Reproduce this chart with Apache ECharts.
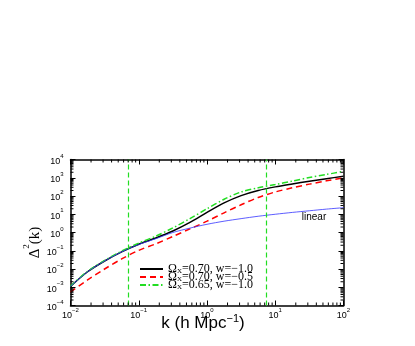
<!DOCTYPE html>
<html>
<head>
<meta charset="utf-8">
<script src="https://cdn.jsdelivr.net/npm/echarts@6/dist/echarts.min.js"></script>
<style>
  html, body { margin: 0; padding: 0; background: #fff; }
  #main { width: 415px; height: 346px; }
</style>
</head>
<body>
<div id="main"></div>
<script>
// wavenumber k in h/Mpc
var kValues = [0.01, 0.0178, 0.0316, 0.0562, 0.1, 0.178, 0.316, 0.562, 1, 1.78, 3.16, 5.62, 10, 17.8, 31.6, 56.2, 100];
// Delta^2(k) for each model
var omega070w10 = [0.00112, 0.00708, 0.0275, 0.0871, 0.229, 0.501, 1.20, 3.55, 12.6, 41.7, 105, 200, 316, 457, 646, 891, 1202];
var omega070w05 = [0.000562, 0.00251, 0.0100, 0.0355, 0.105, 0.240, 0.603, 1.58, 4.17, 12.0, 33.1, 83.2, 166, 282, 447, 676, 1000];
var omega065w10 = [0.00117, 0.00741, 0.0295, 0.0955, 0.263, 0.631, 1.78, 5.75, 20.0, 66.1, 166, 282, 427, 661, 1023, 1514, 2239];
var linearSpec = [0.00112, 0.00708, 0.0275, 0.0871, 0.219, 0.457, 1.00, 1.74, 2.82, 4.17, 5.75, 7.76, 10.0, 12.6, 15.5, 19.1, 22.9];
var legendLabels = ['Ω{sub|X}=0.70, w=−1.0', 'Ω{sub|X}=0.70, w=−0.5', 'Ω{sub|X}=0.65, w=−1.0'];
var scaleLines = [0.072, 7.4];
var linearNote = [37, 7.2];

function pairs(ys) {
    return kValues.map(function (k, i) { return [k, ys[i]]; });
}

function powerLabel(v) {
    var e = Math.round(Math.log10(v));
    return '{b|10}{s|' + (e < 0 ? '−' + (-e) : e) + '}';
}

// minor ticks at 2..9 x 10^n
function minorTicks(lo, hi) {
    var t = [];
    for (var e = lo; e < hi; e++) {
        for (var m = 2; m <= 9; m++) t.push(m * Math.pow(10, e));
    }
    return t;
}

var supRich = {
    b: {fontSize: 9, fontFamily: 'Liberation Sans', color: '#000', verticalAlign: 'bottom', lineHeight: 13},
    s: {fontSize: 6, fontFamily: 'Liberation Sans', color: '#000', verticalAlign: 'top', lineHeight: 6}
};

var tickStyle = {show: true, inside: true, length: 5, lineStyle: {color: '#000', width: 1}};
var lineAxis = {lineStyle: {color: '#000', width: 1.5}};

var myChart = echarts.init(document.getElementById('main'));
myChart.setOption({
    animation: false,
    backgroundColor: '#fff',
    grid: {left: 70.5, right: 71.5, top: 159.5, bottom: 40.5},
    legend: {
        orient: 'vertical',
        left: 134,
        top: 258,
        itemWidth: 23,
        itemHeight: 8,
        itemGap: -4,
        itemStyle: {opacity: 0},
        data: legendLabels,
        textStyle: {
            fontFamily: 'Liberation Serif', fontSize: 12, color: '#000',
            rich: {
                sub: {fontFamily: 'Liberation Serif', fontSize: 7, color: '#000', verticalAlign: 'top', lineHeight: 6, padding: [5, 0, 0, 0]}
            }
        }
    },
    xAxis: [{
        type: 'log', logBase: 10, min: 0.01, max: 100, interval: 1,
        axisLine: lineAxis, axisTick: tickStyle, splitLine: {show: false},
        axisLabel: {margin: 2, formatter: powerLabel, rich: supRich},
        name: '{t|k (h Mpc}{u|−1}{t|)}', nameLocation: 'middle', nameGap: 8, nameMoveOverlap: false,
        nameTextStyle: {
            padding: [0, 8, 0, 0],
            rich: {
                t: {fontFamily: 'Liberation Sans', fontSize: 17, color: '#000', verticalAlign: 'bottom', lineHeight: 18},
                u: {fontFamily: 'Liberation Sans', fontSize: 11, color: '#000', verticalAlign: 'top', lineHeight: 10}
            }
        }
    }, {
        type: 'log', logBase: 10, min: 0.01, max: 100, interval: 1, position: 'top',
        axisLine: lineAxis, axisTick: tickStyle, splitLine: {show: false}, axisLabel: {show: false}
    }],
    yAxis: [{
        type: 'log', logBase: 10, min: 1e-4, max: 1e4, interval: 1,
        axisLine: lineAxis, axisTick: tickStyle, splitLine: {show: false},
        axisLabel: {margin: 7, formatter: powerLabel, rich: supRich},
        name: '{d|Δ}{s|2}{d|(k)}', nameLocation: 'middle', nameGap: 28, nameRotate: 90, nameMoveOverlap: false,
        nameTextStyle: {
            padding: [0, 20, 0, 0],
            rich: {
                d: {fontFamily: 'Liberation Serif', fontSize: 15, color: '#000', verticalAlign: 'bottom', lineHeight: 20},
                s: {fontFamily: 'Liberation Serif', fontSize: 9, color: '#000', verticalAlign: 'top', lineHeight: 9}
            }
        }
    }, {
        type: 'log', logBase: 10, min: 1e-4, max: 1e4, interval: 1, position: 'right',
        axisLine: lineAxis, axisTick: tickStyle, splitLine: {show: false}, axisLabel: {show: false}
    }],
    series: [{
        name: legendLabels[0], type: 'line', data: pairs(omega070w10),
        symbol: 'none', smooth: 0.3, z: 3,
        lineStyle: {color: '#000', width: 1.5}, itemStyle: {color: '#000'},
        markLine: {
            silent: true, symbol: 'none', label: {show: false},
            lineStyle: {color: '#22dd22', width: 1.2, type: [5, 3]},
            data: scaleLines.map(function (k) { return {xAxis: k}; })
        }
    }, {
        name: legendLabels[1], type: 'line', data: pairs(omega070w05),
        symbol: 'none', smooth: 0.3, z: 3,
        lineStyle: {color: '#ff0000', width: 1.5, type: [6, 4]}, itemStyle: {color: '#ff0000'}
    }, {
        name: legendLabels[2], type: 'line', data: pairs(omega065w10),
        symbol: 'none', smooth: 0.3, z: 3,
        lineStyle: {color: '#22dd22', width: 1.5, type: [6, 2.5, 1.5, 2.5]}, itemStyle: {color: '#22dd22'}
    }, {
        name: 'linear', type: 'line', data: pairs(linearSpec),
        symbol: 'none', smooth: 0.3, z: 4,
        lineStyle: {color: '#3333ff', width: 0.8}, itemStyle: {color: '#3333ff'},
        markPoint: {
            silent: true, symbol: 'circle', symbolSize: 0,
            label: {show: true, position: 'inside', formatter: 'linear', color: '#000', fontFamily: 'Liberation Sans', fontSize: 10},
            data: [{coord: linearNote}]
        }
    }, {
        type: 'custom', silent: true, z: 5,
        data: minorTicks(-2, 2).map(function (k) { return [k, 1e-4]; }),
        renderItem: function (params, api) {
            var p0 = api.coord([api.value(0), 1e-4]);
            var p1 = api.coord([api.value(0), 1e4]);
            return {type: 'group', children: [
                {type: 'line', shape: {x1: p0[0], y1: p0[1], x2: p0[0], y2: p0[1] - 3}, style: {stroke: '#000', lineWidth: 1}},
                {type: 'line', shape: {x1: p1[0], y1: p1[1], x2: p1[0], y2: p1[1] + 3}, style: {stroke: '#000', lineWidth: 1}}
            ]};
        }
    }, {
        type: 'custom', silent: true, z: 5,
        data: minorTicks(-4, 4).map(function (v) { return [0.01, v]; }),
        renderItem: function (params, api) {
            var p0 = api.coord([0.01, api.value(1)]);
            var p1 = api.coord([100, api.value(1)]);
            return {type: 'group', children: [
                {type: 'line', shape: {x1: p0[0], y1: p0[1], x2: p0[0] + 3, y2: p0[1]}, style: {stroke: '#000', lineWidth: 1}},
                {type: 'line', shape: {x1: p1[0], y1: p1[1], x2: p1[0] - 3, y2: p1[1]}, style: {stroke: '#000', lineWidth: 1}}
            ]};
        }
    }]
});
</script>
</body>
</html>
